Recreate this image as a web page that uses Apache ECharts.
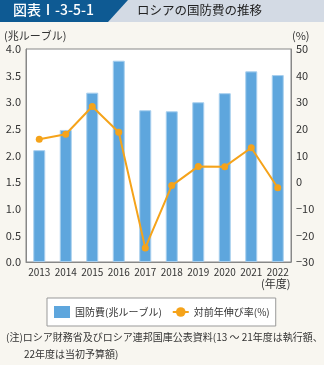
<!DOCTYPE html>
<html><head><meta charset="utf-8">
<script src="https://cdn.jsdelivr.net/npm/echarts@6/dist/echarts.min.js"></script>
<style>html,body{margin:0;padding:0;background:#F8F6F0;}#c{width:324px;height:365px;}</style>
</head><body><div id="c"></div>
<script>
const categories = ['2013','2014','2015','2016','2017','2018','2019','2020','2021','2022'];
const defenseSpending = [2.10, 2.48, 3.18, 3.78, 2.85, 2.83, 3.00, 3.17, 3.58, 3.51];
const growthRate = [16.1, 18.0, 28.4, 18.7, -24.7, -1.3, 5.9, 5.8, 12.9, -2.1];
const leftTicks = ['0.0','0.5','1.0','1.5','2.0','2.5','3.0','3.5','4.0'];
const FONT = '"Noto Sans CJK JP", sans-serif';
const chart = echarts.init(document.getElementById('c'), null, {renderer:'canvas'});
chart.setOption({
  backgroundColor: '#F8F6F0',
  textStyle: {fontFamily: FONT},
  animation: false,
  graphic: [
    {type:'rect', shape:{x:0,y:0,width:324,height:22}, style:{fill:'#D3DAE4'}},
    {type:'polygon', shape:{points:[[0,0],[128,0],[108,22],[0,22]]}, style:{fill:'#0E5A93'}},
    {type:'text', left:13, top:3, style:{text:'図表Ⅰ-3-5-1', fill:'#fff', font:'500 14px '+FONT}},
    {type:'text', left:137, top:4, style:{text:'ロシアの国防費の推移', fill:'#222', font:'12.5px '+FONT}},
    {type:'text', left:4, top:30, style:{text:'(兆ルーブル)', fill:'#333', font:'11px '+FONT}},
    {type:'text', left:292, top:30, style:{text:'(%)', fill:'#333', font:'11px '+FONT}},
    {type:'text', left:261, top:278, style:{text:'(年度)', fill:'#333', font:'11px '+FONT}},
    {type:'text', left:6, top:332, style:{text:'(注)ロシア財務省及びロシア連邦国庫公表資料(13 ～ 21年度は執行額、', fill:'#333', font:'10px '+FONT}},
    {type:'text', left:24, top:349, style:{text:'22年度は当初予算額)', fill:'#333', font:'10px '+FONT}}
  ],
  grid: {left:26, right:33, top:49, bottom:103, show:true, backgroundColor:'#fff', borderColor:'#888', borderWidth:1},
  legend: {
    left: 47, top: 298, orient:'horizontal',
    padding: [8, 6, 8, 7],
    backgroundColor:'#fff', borderColor:'#999', borderWidth:1,
    itemGap: 10, itemWidth: 16, itemHeight: 12,
    textStyle: {fontSize: 10, color:'#333', fontFamily: FONT},
    data: [
      {name:'国防費(兆ルーブル)', icon:'rect', itemStyle:{borderWidth:0}},
      {name:'対前年伸び率(%)'}
    ]
  },
  xAxis: {
    type:'category', data: categories,
    axisLine:{lineStyle:{color:'#888'}}, axisTick:{show:false},
    axisLabel:{color:'#333', fontSize:10, margin:5, interval:0}
  },
  yAxis: [
    {type:'value', min:0, max:4, interval:0.5, position:'left',
     axisLine:{show:true, lineStyle:{color:'#888'}}, axisTick:{show:false}, splitLine:{show:false},
     axisLabel:{color:'#333', fontSize:11, margin:5, formatter:(v)=>leftTicks[Math.round(v/0.5)]}},
    {type:'value', min:-30, max:50, interval:10, position:'right',
     axisLine:{show:true, lineStyle:{color:'#888'}}, axisTick:{show:false}, splitLine:{show:false},
     axisLabel:{color:'#333', fontSize:11, margin:5, formatter:(v)=> v<0 ? '−'+Math.abs(v) : String(v)}}
  ],
  series: [
    {name:'国防費(兆ルーブル)', type:'bar', data: defenseSpending, yAxisIndex:0, barWidth:12,
     itemStyle:{color:'#5EA6DD', borderColor:'#A8CFEE', borderWidth:1}},
    {name:'対前年伸び率(%)', type:'line', data: growthRate, yAxisIndex:1,
     symbol:'circle', symbolSize:7, lineStyle:{color:'#F5A31A', width:2}, itemStyle:{color:'#F5A31A'}}
  ]
});
</script></body></html>
